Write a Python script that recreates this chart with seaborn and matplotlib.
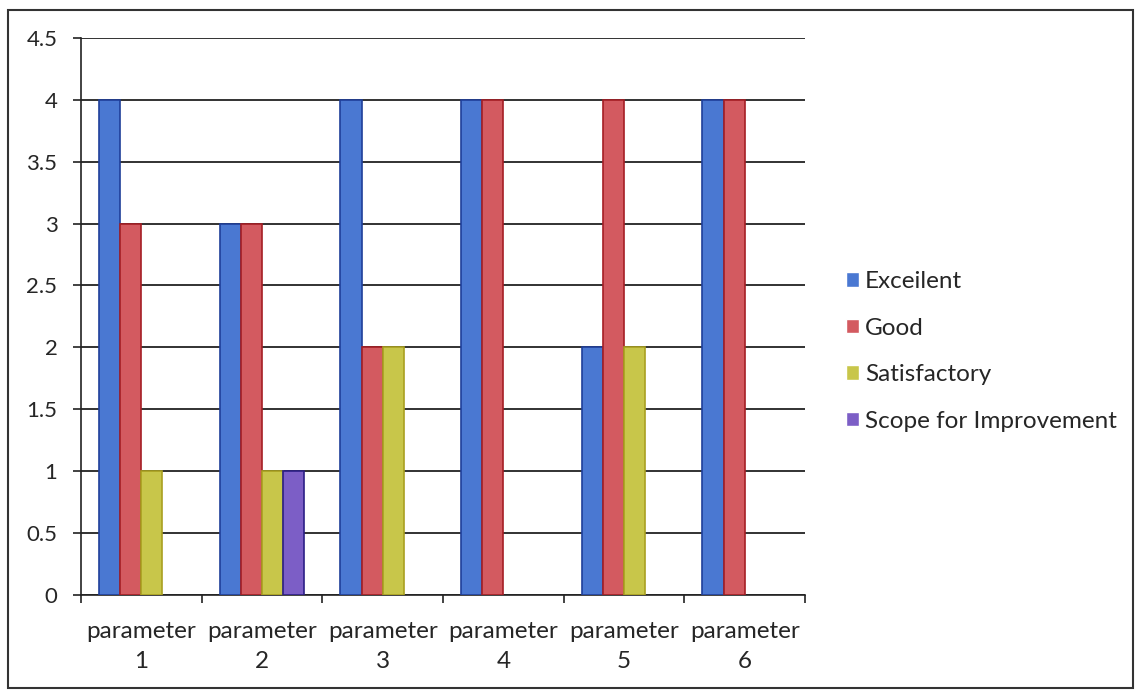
import matplotlib
matplotlib.use("Agg")
import matplotlib.pyplot as plt
from matplotlib.patches import Rectangle
import seaborn as sns
import pandas as pd

categories = ["parameter\n1", "parameter\n2", "parameter\n3", "parameter\n4", "parameter\n5", "parameter\n6"]
series_names = ["Excellent", "Good", "Satisfactory", "Scope for Improvement"]
excellent = [4, 3, 4, 4, 2, 4]
good = [3, 3, 2, 4, 4, 4]
satisfactory = [1, 1, 2, 0, 2, 0]
scope = [0, 1, 0, 0, 0, 0]
legend_labels = ["Exceilent", "Good", "Satisfactory", "Scope for Improvement"]
y_ticks = [0, 0.5, 1, 1.5, 2, 2.5, 3, 3.5, 4, 4.5]
y_ticklabels = ["0", "0.5", "1", "1.5", "2", "2.5", "3", "3.5", "4", "4.5"]

colors = ["#4a78d2", "#d35a60", "#c8c64a", "#7c5ec6"]
edges = ["#1f3f9a", "#a51e25", "#a9a020", "#2c1f86"]

rows = []
for name, vals in zip(series_names, [excellent, good, satisfactory, scope]):
    for c, v in zip(categories, vals):
        rows.append({"category": c, "series": name, "value": v})
df = pd.DataFrame(rows)

sns.set_theme(style="white")
plt.rcParams["font.family"] = ["Lato", "DejaVu Sans"]

fig = plt.figure(figsize=(11.41, 6.93), dpi=100)
ax = fig.add_axes([0.071, 0.142, 0.6345, 0.803])

sns.barplot(data=df, x="category", y="value", hue="series", order=categories,
            hue_order=series_names, palette=colors, width=0.7, dodge=True,
            errorbar=None, ax=ax, saturation=1, zorder=3)

for cont, ec in zip(ax.containers, edges):
    for bar in cont:
        bar.set_edgecolor(ec)
        bar.set_linewidth(1.2)
        if bar.get_height() == 0:
            bar.set_visible(False)

ax.set_ylim(0, 4.5)
ax.set_xlim(-0.5, 5.5)
ax.set_yticks(y_ticks)
ax.set_yticklabels(y_ticklabels, fontsize=16)
ax.yaxis.grid(True, color="#222222", linewidth=1.3, zorder=0)
ax.set_axisbelow(True)
ax.set_xlabel("")
ax.set_ylabel("")

ax.set_xticks(range(len(categories)))
ax.set_xticklabels(categories, fontsize=17.5, linespacing=1.55)
ax.set_xticks([i - 0.5 for i in range(len(categories) + 1)], minor=True)
ax.tick_params(axis="x", which="major", length=0, pad=19)
ax.tick_params(axis="x", which="minor", length=6, width=1.2, color="#222222", direction="out", bottom=True)
ax.tick_params(axis="y", length=6, width=1.2, color="#222222", direction="out", left=True, pad=11)

for s in ["top", "right"]:
    ax.spines[s].set_visible(False)
for s in ["left", "bottom"]:
    ax.spines[s].set_color("#222222")
    ax.spines[s].set_linewidth(1.2)

handles, _ = ax.get_legend_handles_labels()
leg = ax.legend(handles, legend_labels, loc="center left", bbox_to_anchor=(1.026, 0.437),
                frameon=False, fontsize=17.5, handlelength=0.55, handleheight=0.55,
                handletextpad=0.25, labelspacing=1.05)

fig.add_artist(Rectangle((8 / 1141, 1 - 688 / 693), (1133 - 8) / 1141, (688 - 10) / 693,
                         transform=fig.transFigure, fill=False, edgecolor="#333333", linewidth=1.5))

fig.savefig("out.png", dpi=100)
